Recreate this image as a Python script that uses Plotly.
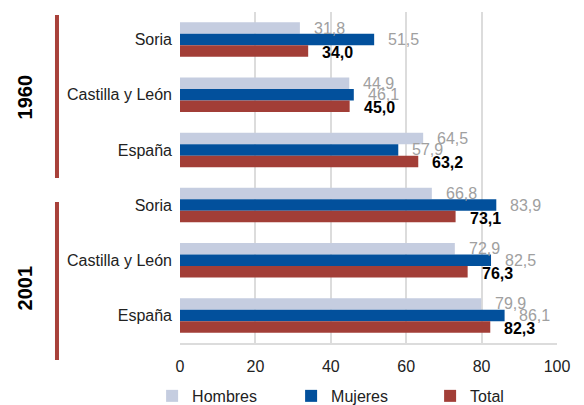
import plotly.graph_objects as go

# datos (esperanza de vida)
years = ["1960", "2001"]
places = ["Soria", "Castilla y León", "España"]
hombres = [31.8, 44.9, 64.5, 66.8, 72.9, 79.9]
mujeres = [51.5, 46.1, 57.9, 83.9, 82.5, 86.1]
total = [34.0, 45.0, 63.2, 73.1, 76.3, 82.3]
x_ticks = [0, 20, 40, 60, 80, 100]

labels = places * len(years)
ypos = list(range(len(labels)))

gray_lbl = dict(color="#a0a0a0", size=16)
bold_lbl = dict(color="#000000", size=16, weight="bold")
series = [
    ("Hombres", hombres, "#c5cde0", gray_lbl, 11.5),
    ("Mujeres", mujeres, "#02509c", gray_lbl, 0),
    ("Total", total, "#a23e37", bold_lbl, -13),
]

fig = go.Figure()
for name, vals, col, fnt, dy in series:
    fig.add_trace(go.Bar(
        name=name, x=vals, y=ypos, orientation="h",
        marker=dict(color=col, line=dict(width=0)),
    ))
    for v, yy in zip(vals, ypos):
        fig.add_annotation(
            x=v, y=yy, xref="x", yref="y",
            text=f"{v:.1f}".replace(".", ","),
            showarrow=False, xanchor="left", yanchor="middle",
            xshift=12, yshift=dy, font=fnt,
        )

# etiquetas de año y barras rojas a la izquierda
fig.add_shape(type="line", xref="paper", yref="paper", x0=-0.3263, x1=-0.3263,
              y0=0.991, y1=0.4985, line=dict(color="#a8413a", width=4))
fig.add_shape(type="line", xref="paper", yref="paper", x0=-0.3263, x1=-0.3263,
              y0=0.426, y1=-0.051, line=dict(color="#a8413a", width=4))
for yr, yc in zip(years, [0.742, 0.165]):
    fig.add_annotation(text=yr, xref="paper", yref="paper", x=-0.411, y=yc,
                       xanchor="center", yanchor="middle",
                       textangle=-90, showarrow=False,
                       font=dict(size=20, color="#000000", weight="bold"))

fig.update_layout(
    width=584, height=405,
    margin=dict(l=180, r=27, t=12, b=62, autoexpand=False),
    barmode="group", bargap=0.375, bargroupgap=0,
    plot_bgcolor="white", paper_bgcolor="white",
    font=dict(family="Liberation Sans, Arial", color="#222222", size=16),
    showlegend=True,
    legend=dict(orientation="h", x=-0.074, y=-0.16, xanchor="left", yanchor="middle",
                entrywidth=94, font=dict(size=16, color="#222222"),
                traceorder="normal", bgcolor="rgba(0,0,0,0)"),
)
fig.update_xaxes(range=[0, 100], tickvals=x_ticks, showgrid=True,
                 gridcolor="#dcdcdc", gridwidth=2, zeroline=False,
                 showline=True, linecolor="#dcdcdc", linewidth=2,
                 tickfont=dict(size=16, color="#222222"), ticks="", ticklabelstandoff=8)
fig.update_yaxes(tickvals=ypos, ticktext=labels, autorange="reversed",
                 showgrid=False, zeroline=False, ticks="", ticklabelstandoff=7,
                 tickfont=dict(size=16, color="#222222"))

# quitar el margen del body para que la figura ocupe la ventana
fig.write_html("out.html", config={"displayModeBar": False},
               post_script="document.body.style.margin='0';")
